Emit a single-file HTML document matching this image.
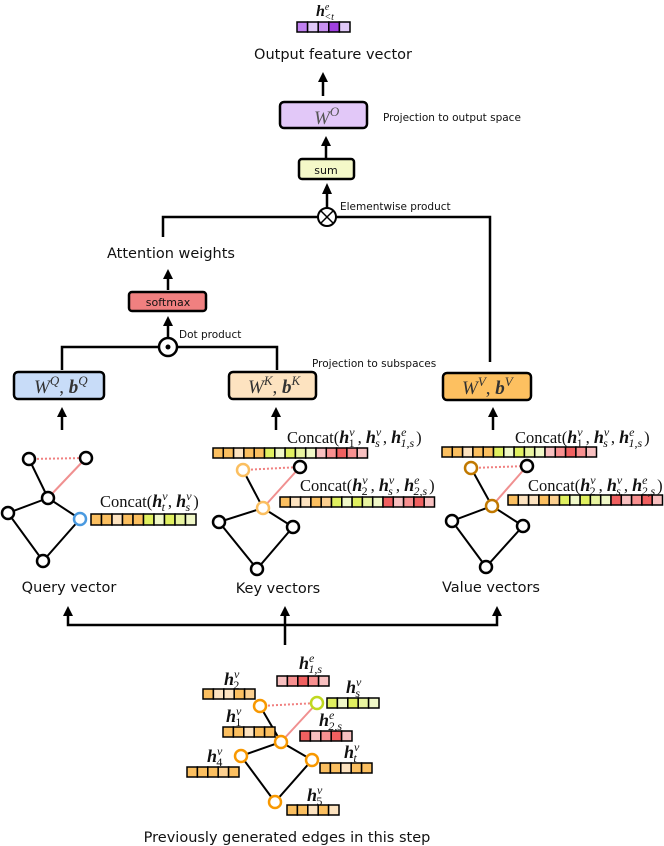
<!DOCTYPE html>
<html><head><meta charset="utf-8"><style>
html,body{margin:0;padding:0;background:#fff}
svg{display:block}
.s{font-family:"DejaVu Sans","Liberation Sans",sans-serif;fill:#111}
.m{font-family:"Liberation Serif",serif;fill:#111}
.b{font-weight:bold;font-style:italic;font-size:18px}
.i{font-style:italic}
.sp{font-size:12px}
</style></head><body>
<svg width="664" height="846" viewBox="0 0 664 846" xmlns="http://www.w3.org/2000/svg">
<g stroke="#000" stroke-width="2.5" fill="none">
<line x1="323" y1="96" x2="323" y2="80"/><path d="M318,82 L323,72 L328,82Z" fill="#000" stroke="none"/>
<line x1="326" y1="158" x2="326" y2="144"/><path d="M321,146 L326,136 L331,146Z" fill="#000" stroke="none"/>
<line x1="327" y1="208" x2="327" y2="192"/><path d="M322,194 L327,183 L332,194Z" fill="#000" stroke="none"/>
<polyline points="163,237 163,217 490,217 490,362"/>
<line x1="168" y1="290" x2="168" y2="277"/><path d="M163,279 L168,269 L173,279Z" fill="#000" stroke="none"/>
<line x1="168" y1="340" x2="168" y2="324"/><path d="M163,326 L168,316 L173,326Z" fill="#000" stroke="none"/>
<polyline points="62,370 62,347 277,347 277,370"/>
<line x1="62" y1="430" x2="62" y2="415"/><path d="M57,417 L62,407 L67,417Z" fill="#000" stroke="none"/>
<line x1="276" y1="430" x2="276" y2="415"/><path d="M271,417 L276,407 L281,417Z" fill="#000" stroke="none"/>
<line x1="493" y1="430" x2="493" y2="415"/><path d="M488,417 L493,407 L498,417Z" fill="#000" stroke="none"/>
<line x1="285" y1="645" x2="285" y2="614"/><path d="M280,616 L285,606 L290,616Z" fill="#000" stroke="none"/>
<polyline points="68,614 68,625 497,625 497,614"/>
<path d="M63,616 L68,606 L73,616Z" fill="#000" stroke="none"/>
<path d="M492,616 L497,606 L502,616Z" fill="#000" stroke="none"/>
</g>
<circle cx="327" cy="217" r="9" fill="#fff" stroke="#000" stroke-width="2"/>
<path d="M321,211 L333,223 M333,211 L321,223" stroke="#000" stroke-width="1.5"/>
<circle cx="168" cy="347" r="9" fill="#fff" stroke="#000" stroke-width="2.5"/>
<circle cx="168" cy="347" r="2.5" fill="#000"/>
<g stroke="#000" stroke-width="2.5">
<rect x="280" y="102" width="87" height="26" rx="4" fill="#e2c8f8"/>
<rect x="299" y="159" width="55" height="20" rx="3" fill="#f4f8c8"/>
<rect x="129" y="292" width="77" height="19" rx="3" fill="#f08080"/>
<rect x="14" y="372" width="90" height="27" rx="4" fill="#c8dcf8"/>
<rect x="229" y="372" width="87" height="27" rx="4" fill="#fde3c0"/>
<rect x="443" y="373" width="88" height="27" rx="4" fill="#fdc060"/>
</g>
<text class="m i" x="314" y="124" style="font-size:19px;fill:#555">W<tspan dy="-8" style="font-size:13px">O</tspan></text>
<text class="s" x="326" y="174" style="font-size:11px" text-anchor="middle">sum</text>
<text class="s" x="168" y="306" style="font-size:11px" text-anchor="middle">softmax</text>
<text class="m" x="34" y="393" style="font-size:19px;fill:#333"><tspan class="i">W</tspan><tspan dy="-8" style="font-size:13px" class="i">Q</tspan><tspan dy="8">,  </tspan><tspan class="b" style="font-size:19px">b</tspan><tspan dy="-8" style="font-size:13px" class="i">Q</tspan></text>
<text class="m" x="248" y="393" style="font-size:19px;fill:#333"><tspan class="i">W</tspan><tspan dy="-8" style="font-size:13px" class="i">K</tspan><tspan dy="8">,  </tspan><tspan class="b" style="font-size:19px">b</tspan><tspan dy="-8" style="font-size:13px" class="i">K</tspan></text>
<text class="m" x="462" y="394" style="font-size:19px;fill:#333"><tspan class="i">W</tspan><tspan dy="-8" style="font-size:13px" class="i">V</tspan><tspan dy="8">,  </tspan><tspan class="b" style="font-size:19px">b</tspan><tspan dy="-8" style="font-size:13px" class="i">V</tspan></text>
<text class="m" x="316" y="16" style="font-size:16px"><tspan class="b" style="font-size:16px">h</tspan><tspan dy="-6" style="font-size:10px" class="i">e</tspan><tspan dx="-5" dy="10" style="font-size:10px" class="i">&lt;t</tspan></text>
<text class="s" x="333" y="59" style="font-size:14.5px" text-anchor="middle">Output feature vector</text>
<text class="s" x="383" y="121" style="font-size:10.5px">Projection to output space</text>
<text class="s" x="340" y="210" style="font-size:10.5px">Elementwise product</text>
<text class="s" x="171" y="258" style="font-size:14.5px" text-anchor="middle">Attention weights</text>
<text class="s" x="179" y="338" style="font-size:10.5px">Dot product</text>
<text class="s" x="312" y="367" style="font-size:10.5px">Projection to subspaces</text>
<text class="s" x="69" y="592" style="font-size:14.5px" text-anchor="middle">Query vector</text>
<text class="s" x="278" y="593" style="font-size:14.5px" text-anchor="middle">Key vectors</text>
<text class="s" x="491" y="592" style="font-size:14.5px" text-anchor="middle">Value vectors</text>
<text class="s" x="287" y="842" style="font-size:14.5px" text-anchor="middle">Previously generated edges in this step</text>
<g stroke="#000" stroke-width="1.5">
<rect x="297" y="22" width="10.6" height="10" fill="#c080f0"/><rect x="307.6" y="22" width="10.6" height="10" fill="#e0c8f8"/><rect x="318.2" y="22" width="10.6" height="10" fill="#c890f0"/><rect x="328.8" y="22" width="10.6" height="10" fill="#a040e0"/><rect x="339.4" y="22" width="10.6" height="10" fill="#e0c8f8"/>
</g>
<g stroke-width="2">
<line x1="29" y1="459" x2="86" y2="458" stroke="#f08080" stroke-dasharray="2,2"/>
<line x1="48" y1="498" x2="86" y2="458" stroke="#f09090"/>
<path d="M29,459 L48,498 L8,513 L43,561 L80,519 L48,498" stroke="#000" fill="none"/>
<g fill="#fff" stroke="#000" stroke-width="2.5"><circle cx="29" cy="459" r="6"/><circle cx="86" cy="458" r="6"/><circle cx="48" cy="498" r="6"/><circle cx="8" cy="513" r="6"/><circle cx="43" cy="561" r="6"/><circle cx="80" cy="519" r="6" stroke="#4a9ae0"/></g>
<line x1="243" y1="470" x2="300" y2="467" stroke="#f08080" stroke-dasharray="2,2"/>
<line x1="263" y1="508" x2="300" y2="467" stroke="#f09090"/>
<path d="M243,470 L263,508 L219,522 L257,569 L293,527 L263,508" stroke="#000" fill="none"/>
<g fill="#fff" stroke="#000" stroke-width="2.5"><circle cx="243" cy="470" r="6" stroke="#fbbf60"/><circle cx="300" cy="467" r="6"/><circle cx="263" cy="508" r="6" stroke="#fbbf60"/><circle cx="219" cy="522" r="6"/><circle cx="257" cy="569" r="6"/><circle cx="293" cy="527" r="6"/></g>
<line x1="471" y1="468" x2="527" y2="466" stroke="#f08080" stroke-dasharray="2,2"/>
<line x1="492" y1="506" x2="527" y2="466" stroke="#f09090"/>
<path d="M471,468 L492,506 L452,521 L486,567 L523,526 L492,506" stroke="#000" fill="none"/>
<g fill="#fff" stroke="#000" stroke-width="2.5"><circle cx="471" cy="468" r="6" stroke="#c07800"/><circle cx="527" cy="466" r="6"/><circle cx="492" cy="506" r="6" stroke="#c07800"/><circle cx="452" cy="521" r="6"/><circle cx="486" cy="567" r="6"/><circle cx="523" cy="526" r="6"/></g>
<line x1="260" y1="706" x2="317" y2="703" stroke="#f08080" stroke-dasharray="2,2"/>
<line x1="281" y1="742" x2="317" y2="703" stroke="#f09090"/>
<path d="M260,706 L281,742 L241,756 L275,802 L312,760 L281,742" stroke="#000" fill="none"/>
<g fill="#fff" stroke="#f89800" stroke-width="2.5"><circle cx="260" cy="706" r="6"/><circle cx="317" cy="703" r="6" stroke="#c0d820"/><circle cx="281" cy="742" r="6"/><circle cx="241" cy="756" r="6"/><circle cx="312" cy="760" r="6"/><circle cx="275" cy="802" r="6"/></g>
</g>
<g stroke="#000" stroke-width="1.5">
<g transform="translate(91,514)">
<rect x="0" width="10.5" height="11" fill="#fbbf60"/><rect x="10.5" width="10.5" height="11" fill="#fbbf60"/><rect x="21" width="10.5" height="11" fill="#fde3c0"/><rect x="31.5" width="10.5" height="11" fill="#fbbf60"/><rect x="42" width="10.5" height="11" fill="#fbbf60"/><rect x="52.5" width="10.5" height="11" fill="#e0f060"/><rect x="63" width="10.5" height="11" fill="#f0f8c8"/><rect x="73.5" width="10.5" height="11" fill="#e0f060"/><rect x="84" width="10.5" height="11" fill="#e8f4a0"/><rect x="94.5" width="10.5" height="11" fill="#f0f8c8"/>
</g>
<g transform="translate(213,448)">
<rect x="0" width="10.3" height="10" fill="#fbbf60"/><rect x="10.3" width="10.3" height="10" fill="#fbbf60"/><rect x="20.6" width="10.3" height="10" fill="#fde3c0"/><rect x="30.9" width="10.3" height="10" fill="#fbbf60"/><rect x="41.2" width="10.3" height="10" fill="#fbbf60"/><rect x="51.5" width="10.3" height="10" fill="#e0f060"/><rect x="61.8" width="10.3" height="10" fill="#f0f8c8"/><rect x="72.1" width="10.3" height="10" fill="#e0f060"/><rect x="82.4" width="10.3" height="10" fill="#e8f4a0"/><rect x="92.7" width="10.3" height="10" fill="#f0f8c8"/><rect x="103" width="10.3" height="10" fill="#f8c0c0"/><rect x="113.3" width="10.3" height="10" fill="#f89090"/><rect x="123.6" width="10.3" height="10" fill="#f06060"/><rect x="133.9" width="10.3" height="10" fill="#f89090"/><rect x="144.2" width="10.3" height="10" fill="#f8c0c0"/>
</g>
<g transform="translate(280,497)">
<rect x="0" width="10.3" height="10" fill="#fbbf60"/><rect x="10.3" width="10.3" height="10" fill="#fde3c0"/><rect x="20.6" width="10.3" height="10" fill="#fde3c0"/><rect x="30.9" width="10.3" height="10" fill="#fbbf60"/><rect x="41.2" width="10.3" height="10" fill="#fcd090"/><rect x="51.5" width="10.3" height="10" fill="#e0f060"/><rect x="61.8" width="10.3" height="10" fill="#f0f8c8"/><rect x="72.1" width="10.3" height="10" fill="#e0f060"/><rect x="82.4" width="10.3" height="10" fill="#e8f4a0"/><rect x="92.7" width="10.3" height="10" fill="#f0f8c8"/><rect x="103" width="10.3" height="10" fill="#f06060"/><rect x="113.3" width="10.3" height="10" fill="#f8c0c0"/><rect x="123.6" width="10.3" height="10" fill="#f89090"/><rect x="133.9" width="10.3" height="10" fill="#f06060"/><rect x="144.2" width="10.3" height="10" fill="#f8c0c0"/>
</g>
<g transform="translate(442,447)">
<rect x="0" width="10.3" height="10" fill="#fbbf60"/><rect x="10.3" width="10.3" height="10" fill="#fbbf60"/><rect x="20.6" width="10.3" height="10" fill="#fde3c0"/><rect x="30.9" width="10.3" height="10" fill="#fbbf60"/><rect x="41.2" width="10.3" height="10" fill="#fbbf60"/><rect x="51.5" width="10.3" height="10" fill="#e0f060"/><rect x="61.8" width="10.3" height="10" fill="#f0f8c8"/><rect x="72.1" width="10.3" height="10" fill="#e0f060"/><rect x="82.4" width="10.3" height="10" fill="#e8f4a0"/><rect x="92.7" width="10.3" height="10" fill="#f0f8c8"/><rect x="103" width="10.3" height="10" fill="#f8c0c0"/><rect x="113.3" width="10.3" height="10" fill="#f89090"/><rect x="123.6" width="10.3" height="10" fill="#f06060"/><rect x="133.9" width="10.3" height="10" fill="#f89090"/><rect x="144.2" width="10.3" height="10" fill="#f8c0c0"/>
</g>
<g transform="translate(508,495)">
<rect x="0" width="10.3" height="10" fill="#fbbf60"/><rect x="10.3" width="10.3" height="10" fill="#fde3c0"/><rect x="20.6" width="10.3" height="10" fill="#fde3c0"/><rect x="30.9" width="10.3" height="10" fill="#fbbf60"/><rect x="41.2" width="10.3" height="10" fill="#fcd090"/><rect x="51.5" width="10.3" height="10" fill="#e0f060"/><rect x="61.8" width="10.3" height="10" fill="#f0f8c8"/><rect x="72.1" width="10.3" height="10" fill="#e0f060"/><rect x="82.4" width="10.3" height="10" fill="#e8f4a0"/><rect x="92.7" width="10.3" height="10" fill="#f0f8c8"/><rect x="103" width="10.3" height="10" fill="#f06060"/><rect x="113.3" width="10.3" height="10" fill="#f8c0c0"/><rect x="123.6" width="10.3" height="10" fill="#f89090"/><rect x="133.9" width="10.3" height="10" fill="#f06060"/><rect x="144.2" width="10.3" height="10" fill="#f8c0c0"/>
</g>
<g transform="translate(203,689)"><rect x="0" width="10.4" height="10" fill="#fbbf60"/><rect x="10.4" width="10.4" height="10" fill="#fde3c0"/><rect x="20.8" width="10.4" height="10" fill="#fde3c0"/><rect x="31.2" width="10.4" height="10" fill="#fbbf60"/><rect x="41.6" width="10.4" height="10" fill="#fcd090"/></g>
<g transform="translate(223,727)"><rect x="0" width="10.4" height="10" fill="#fbbf60"/><rect x="10.4" width="10.4" height="10" fill="#fbbf60"/><rect x="20.8" width="10.4" height="10" fill="#fde3c0"/><rect x="31.2" width="10.4" height="10" fill="#fbbf60"/><rect x="41.6" width="10.4" height="10" fill="#fbbf60"/></g>
<g transform="translate(277,676)"><rect x="0" width="10.4" height="10" fill="#f8c0c0"/><rect x="10.4" width="10.4" height="10" fill="#f89090"/><rect x="20.8" width="10.4" height="10" fill="#f06060"/><rect x="31.2" width="10.4" height="10" fill="#f89090"/><rect x="41.6" width="10.4" height="10" fill="#f8c0c0"/></g>
<g transform="translate(327,698)"><rect x="0" width="10.4" height="10" fill="#e0f060"/><rect x="10.4" width="10.4" height="10" fill="#f0f8c8"/><rect x="20.8" width="10.4" height="10" fill="#e0f060"/><rect x="31.2" width="10.4" height="10" fill="#e8f4a0"/><rect x="41.6" width="10.4" height="10" fill="#f0f8c8"/></g>
<g transform="translate(300,731)"><rect x="0" width="10.4" height="10" fill="#f06060"/><rect x="10.4" width="10.4" height="10" fill="#f8c0c0"/><rect x="20.8" width="10.4" height="10" fill="#f89090"/><rect x="31.2" width="10.4" height="10" fill="#f06060"/><rect x="41.6" width="10.4" height="10" fill="#f8c0c0"/></g>
<g transform="translate(187,767)"><rect x="0" width="10.4" height="10" fill="#fbbf60"/><rect x="10.4" width="10.4" height="10" fill="#fbbf60"/><rect x="20.8" width="10.4" height="10" fill="#fbbf60"/><rect x="31.2" width="10.4" height="10" fill="#fcd090"/><rect x="41.6" width="10.4" height="10" fill="#fbbf60"/></g>
<g transform="translate(320,763)"><rect x="0" width="10.4" height="10" fill="#fbbf60"/><rect x="10.4" width="10.4" height="10" fill="#fbbf60"/><rect x="20.8" width="10.4" height="10" fill="#fde3c0"/><rect x="31.2" width="10.4" height="10" fill="#fbbf60"/><rect x="41.6" width="10.4" height="10" fill="#fbbf60"/></g>
<g transform="translate(287,805)"><rect x="0" width="10.4" height="10" fill="#fbbf60"/><rect x="10.4" width="10.4" height="10" fill="#fbbf60"/><rect x="20.8" width="10.4" height="10" fill="#fde3c0"/><rect x="31.2" width="10.4" height="10" fill="#fbbf60"/><rect x="41.6" width="10.4" height="10" fill="#fde3c0"/></g>
</g>
<text class="m" x="100" y="507" style="font-size:16.5px">Concat(<tspan class="b">h</tspan><tspan dy="-7" class="i sp">v</tspan><tspan dx="-6" dy="11" class="i sp">t</tspan><tspan dx="3" dy="-4">, </tspan><tspan class="b">h</tspan><tspan dy="-7" class="i sp">v</tspan><tspan dx="-6" dy="11" class="i sp">s</tspan><tspan dx="3" dy="-4">)</tspan></text>
<text class="m" x="287" y="443" style="font-size:16.5px">Concat(<tspan class="b">h</tspan><tspan dy="-7" class="i sp">v</tspan><tspan dx="-6" dy="11" class="sp">1</tspan><tspan dx="3" dy="-4">, </tspan><tspan class="b">h</tspan><tspan dy="-7" class="i sp">v</tspan><tspan dx="-6" dy="11" class="i sp">s</tspan><tspan dx="3" dy="-4">, </tspan><tspan class="b">h</tspan><tspan dy="-7" class="i sp">e</tspan><tspan dx="-6" dy="11" class="i sp">1,s</tspan><tspan dx="2" dy="-4">)</tspan></text>
<text class="m" x="300" y="491" style="font-size:16.5px">Concat(<tspan class="b">h</tspan><tspan dy="-7" class="i sp">v</tspan><tspan dx="-6" dy="11" class="sp">2</tspan><tspan dx="3" dy="-4">, </tspan><tspan class="b">h</tspan><tspan dy="-7" class="i sp">v</tspan><tspan dx="-6" dy="11" class="i sp">s</tspan><tspan dx="3" dy="-4">, </tspan><tspan class="b">h</tspan><tspan dy="-7" class="i sp">e</tspan><tspan dx="-6" dy="11" class="i sp">2,s</tspan><tspan dx="2" dy="-4">)</tspan></text>
<text class="m" x="515" y="443" style="font-size:16.5px">Concat(<tspan class="b">h</tspan><tspan dy="-7" class="i sp">v</tspan><tspan dx="-6" dy="11" class="sp">1</tspan><tspan dx="3" dy="-4">, </tspan><tspan class="b">h</tspan><tspan dy="-7" class="i sp">v</tspan><tspan dx="-6" dy="11" class="i sp">s</tspan><tspan dx="3" dy="-4">, </tspan><tspan class="b">h</tspan><tspan dy="-7" class="i sp">e</tspan><tspan dx="-6" dy="11" class="i sp">1,s</tspan><tspan dx="2" dy="-4">)</tspan></text>
<text class="m" x="528" y="491" style="font-size:16.5px">Concat(<tspan class="b">h</tspan><tspan dy="-7" class="i sp">v</tspan><tspan dx="-6" dy="11" class="sp">2</tspan><tspan dx="3" dy="-4">, </tspan><tspan class="b">h</tspan><tspan dy="-7" class="i sp">v</tspan><tspan dx="-6" dy="11" class="i sp">s</tspan><tspan dx="3" dy="-4">, </tspan><tspan class="b">h</tspan><tspan dy="-7" class="i sp">e</tspan><tspan dx="-6" dy="11" class="i sp">2,s</tspan><tspan dx="2" dy="-4">)</tspan></text>
<text class="m" x="224" y="685" style="font-size:18px"><tspan class="b">h</tspan><tspan dy="-7" class="i sp">v</tspan><tspan dx="-6" dy="11" class="sp">2</tspan></text>
<text class="m" x="226" y="722" style="font-size:18px"><tspan class="b">h</tspan><tspan dy="-7" class="i sp">v</tspan><tspan dx="-6" dy="11" class="sp">1</tspan></text>
<text class="m" x="207" y="762" style="font-size:18px"><tspan class="b">h</tspan><tspan dy="-7" class="i sp">v</tspan><tspan dx="-6" dy="11" class="sp">4</tspan></text>
<text class="m" x="299" y="669" style="font-size:18px"><tspan class="b">h</tspan><tspan dy="-7" class="i sp">e</tspan><tspan dx="-6" dy="11" class="i sp">1,s</tspan></text>
<text class="m" x="346" y="693" style="font-size:18px"><tspan class="b">h</tspan><tspan dy="-7" class="i sp">v</tspan><tspan dx="-6" dy="11" class="i sp">s</tspan></text>
<text class="m" x="319" y="726" style="font-size:18px"><tspan class="b">h</tspan><tspan dy="-7" class="i sp">e</tspan><tspan dx="-6" dy="11" class="i sp">2,s</tspan></text>
<text class="m" x="344" y="758" style="font-size:18px"><tspan class="b">h</tspan><tspan dy="-7" class="i sp">v</tspan><tspan dx="-6" dy="11" class="i sp">t</tspan></text>
<text class="m" x="307" y="801" style="font-size:18px"><tspan class="b">h</tspan><tspan dy="-7" class="i sp">v</tspan><tspan dx="-6" dy="11" class="sp">5</tspan></text>
</svg>
</body></html>
